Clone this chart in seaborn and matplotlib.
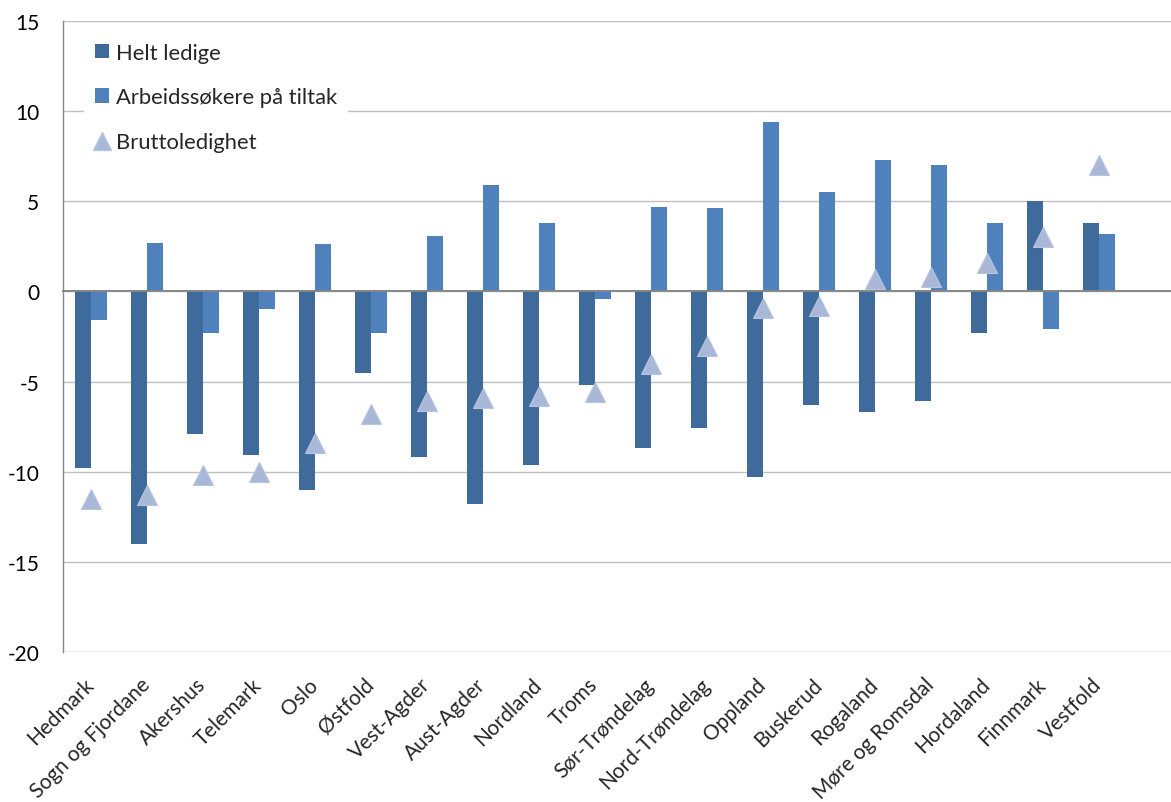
import matplotlib
matplotlib.use("Agg")
import matplotlib.pyplot as plt
from matplotlib.patches import Patch
from matplotlib.lines import Line2D
import numpy as np
import pandas as pd
import seaborn as sns

regions = ["Hedmark", "Sogn og Fjordane", "Akershus", "Telemark", "Oslo", "Østfold",
           "Vest-Agder", "Aust-Agder", "Nordland", "Troms", "Sør-Trøndelag",
           "Nord-Trøndelag", "Oppland", "Buskerud", "Rogaland", "Møre og Romsdal",
           "Hordaland", "Finnmark", "Vestfold"]
helt_ledige = [-9.8, -14.0, -7.9, -9.1, -11.0, -4.5, -9.2, -11.8, -9.6, -5.2, -8.7,
               -7.6, -10.3, -6.3, -6.7, -6.1, -2.3, 5.0, 3.8]
tiltak = [-1.6, 2.7, -2.3, -1.0, 2.65, -2.3, 3.1, 5.9, 3.8, -0.4, 4.7, 4.6, 9.4,
          5.5, 7.3, 7.0, 3.8, -2.1, 3.2]
brutto = [-11.5, -11.3, -10.2, -10.0, -8.4, -6.8, -6.1, -5.9, -5.8, -5.6, -4.0,
          -3.0, -0.9, -0.8, 0.7, 0.8, 1.6, 3.0, 7.0]
series_names = ["Helt ledige", "Arbeidssøkere på tiltak", "Bruttoledighet"]
yticks = [-20, -15, -10, -5, 0, 5, 10, 15]

c_helt = "#3F6A9C"
c_tiltak = "#4F81BD"
c_brutto = "#A8B8D6"
c_grid = "#C0C0C0"
c_axis = "#868686"

sns.set_theme(style="white")
plt.rcParams["font.family"] = ["Lato", "DejaVu Sans"]
plt.rcParams["axes.unicode_minus"] = False

df = pd.DataFrame({
    "region": regions * 2,
    "value": helt_ledige + tiltak,
    "serie": [series_names[0]] * len(regions) + [series_names[1]] * len(regions),
})

fig = plt.figure(figsize=(11.71, 8.03), dpi=100)
ax = fig.add_axes([63 / 1171, 1 - 653 / 803, 1 - 63 / 1171, (653 - 22) / 803])

sns.barplot(data=df, x="region", y="value", hue="serie", order=regions,
            hue_order=series_names[:2], palette=[c_helt, c_tiltak],
            width=0.57, saturation=1, linewidth=0, errorbar=None,
            legend=False, ax=ax, zorder=2)
sns.pointplot(x=regions, y=brutto, order=regions, color=c_brutto, markers="^",
              linestyle="none", errorbar=None, markersize=14.5,
              markeredgecolor="#B8C5DE", markeredgewidth=0.8, ax=ax)
for coll in ax.collections:
    coll.set_zorder(4)
for ln in ax.lines:
    ln.set_zorder(4)

ax.set_ylim(-20, 15)
ax.set_xlim(-0.5, 19.29)
ax.set_yticks(yticks)
ax.yaxis.grid(True, color=c_grid, linewidth=1.0)
ax.set_axisbelow(True)
ax.set_xlabel("")
ax.set_ylabel("")
for s in ["top", "right"]:
    ax.spines[s].set_visible(False)
ax.spines["left"].set_color(c_axis)
ax.spines["left"].set_linewidth(1.0)
ax.spines["bottom"].set_position(("data", 0))
ax.spines["bottom"].set_color(c_axis)
ax.spines["bottom"].set_linewidth(1.4)
ax.spines["bottom"].set_zorder(3)

ax.tick_params(axis="y", length=0, pad=17, labelsize=15, labelcolor="black")
ax.set_xticks(np.arange(-0.5, len(regions), 1.0), minor=True)
ax.tick_params(axis="x", which="minor", length=6, width=1.3, color=c_axis,
               direction="out")
ax.tick_params(axis="x", which="major", length=0, labelbottom=False)

sec = ax.secondary_xaxis(0.0)
sec.set_xticks(range(len(regions)))
sec.set_xticklabels(regions, rotation=45, ha="right", va="center",
                    rotation_mode="anchor", fontsize=15)
sec.tick_params(axis="x", length=0, pad=21)
sec.spines["bottom"].set_visible(False)

ax.axhline(-20, color=c_grid, linewidth=1.0, zorder=1)

handles = [
    Patch(facecolor=c_helt, edgecolor="none"),
    Patch(facecolor=c_tiltak, edgecolor="none"),
    Line2D([], [], marker="^", linestyle="none", color=c_brutto,
           markeredgecolor="#B8C5DE", markersize=13),
]
leg = ax.legend(handles, series_names, loc="upper left",
                bbox_to_anchor=(0.019, 0.983), borderaxespad=0, frameon=True,
                fontsize=15.8, handlelength=0.65, handleheight=0.65,
                handletextpad=0.3, labelspacing=1.13, borderpad=0.5,
                fancybox=False)
leg.get_frame().set_facecolor("white")
leg.get_frame().set_edgecolor("none")
leg.get_frame().set_alpha(1)
leg.set_zorder(5)

fig.savefig("out.png", dpi=100)
